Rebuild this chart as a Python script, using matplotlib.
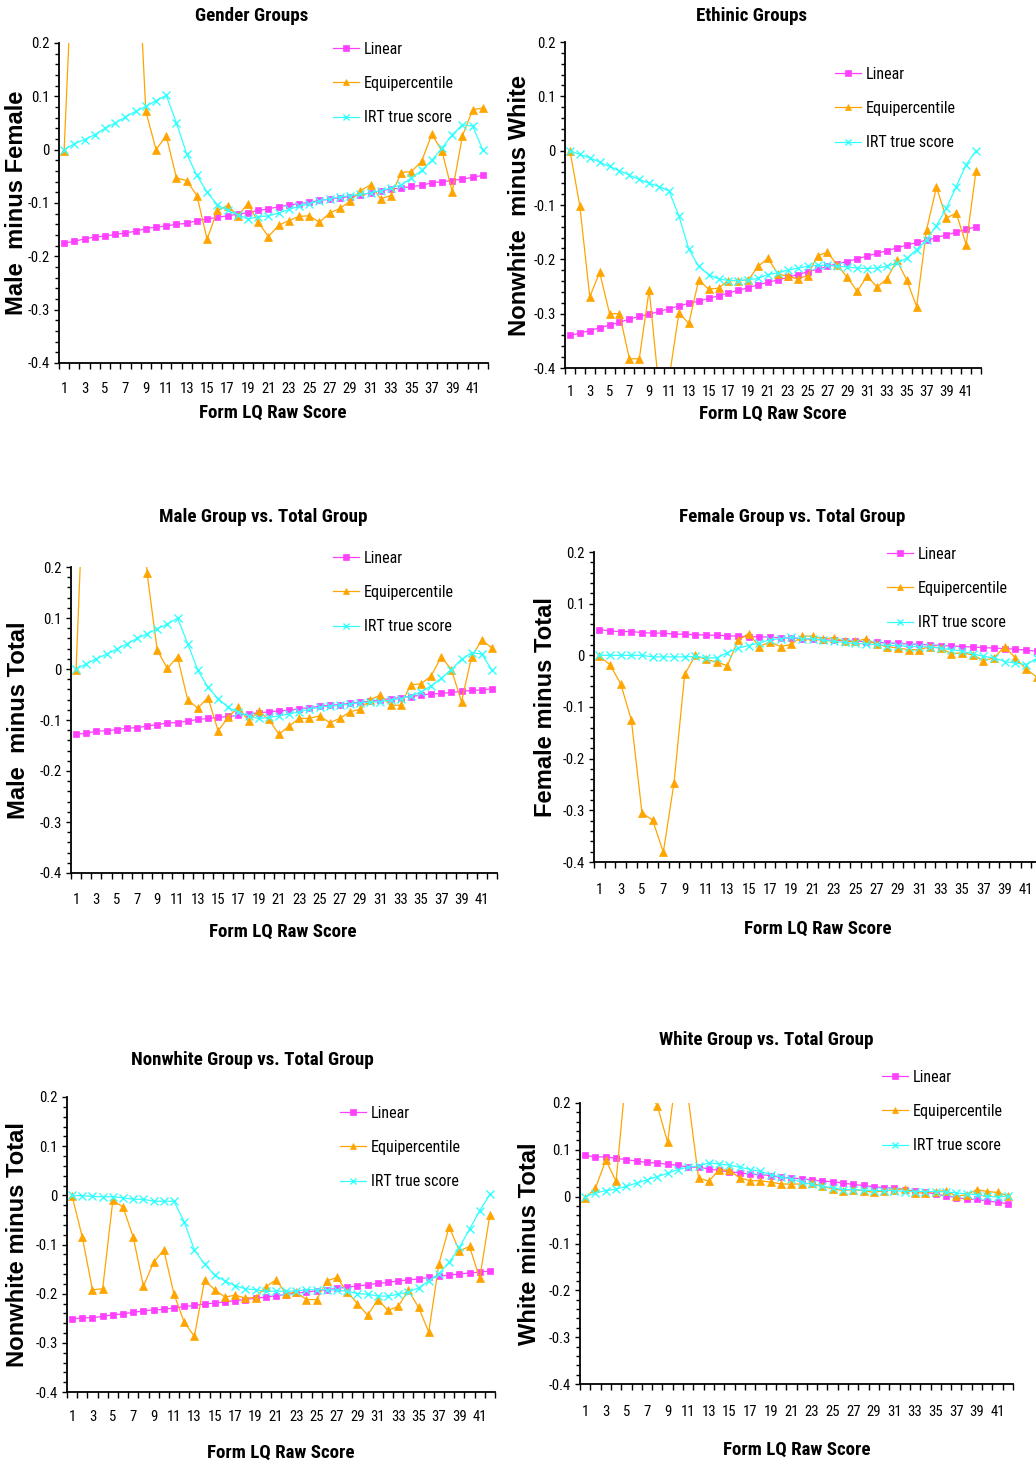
import os
import numpy as np
import matplotlib
matplotlib.use("Agg")
import matplotlib.pyplot as plt
from matplotlib import font_manager
from matplotlib.font_manager import FontProperties
from matplotlib.ticker import FixedLocator, MultipleLocator, NullFormatter, FuncFormatter

W, H = 1036, 1466

scores = list(range(1, 43))
series_names = ["Linear", "Equipercentile", "IRT true score"]

# --- Gender groups (male minus female)
gender_linear = [-0.175, -0.172, -0.167, -0.164, -0.162, -0.159, -0.156, -0.153, -0.148, -0.145,
                 -0.143, -0.140, -0.138, -0.133, -0.130, -0.127, -0.124, -0.121, -0.118, -0.114,
                 -0.111, -0.107, -0.104, -0.101, -0.099, -0.095, -0.093, -0.090, -0.088, -0.085,
                 -0.081, -0.077, -0.074, -0.072, -0.069, -0.067, -0.062, -0.060, -0.058, -0.055,
                 -0.052, -0.048]
gender_equi = [-0.003, 0.44, 0.52, 0.55, 0.57, 0.55, 0.51, 0.46, 0.072, 0.000,
               0.026, -0.053, -0.058, -0.086, -0.168, -0.114, -0.105, -0.124, -0.101, -0.136,
               -0.163, -0.142, -0.133, -0.125, -0.124, -0.136, -0.119, -0.110, -0.097, -0.077,
               -0.066, -0.092, -0.086, -0.043, -0.041, -0.022, 0.029, -0.003, -0.079, 0.026,
               0.075, 0.078]
gender_irt = [0.000, 0.011, 0.019, 0.028, 0.040, 0.050, 0.061, 0.072, 0.081, 0.092,
              0.102, 0.050, -0.008, -0.048, -0.080, -0.103, -0.114, -0.122, -0.130, -0.126,
              -0.124, -0.119, -0.112, -0.106, -0.101, -0.096, -0.092, -0.089, -0.086, -0.084,
              -0.081, -0.077, -0.072, -0.066, -0.053, -0.039, -0.020, 0.003, 0.028, 0.047,
              0.044, -0.001]

# --- Ethnic groups (nonwhite minus white)
ethnic_linear = [-0.340, -0.336, -0.331, -0.326, -0.321, -0.316, -0.310, -0.305, -0.301, -0.296,
                 -0.291, -0.286, -0.281, -0.277, -0.272, -0.267, -0.262, -0.257, -0.252, -0.247,
                 -0.242, -0.238, -0.233, -0.228, -0.223, -0.218, -0.213, -0.208, -0.204, -0.199,
                 -0.194, -0.189, -0.184, -0.179, -0.174, -0.169, -0.165, -0.160, -0.155, -0.150,
                 -0.145, -0.140]
ethnic_equi = [0.000, -0.102, -0.269, -0.224, -0.300, -0.300, -0.383, -0.383, -0.256, -0.440,
               -0.420, -0.299, -0.318, -0.238, -0.255, -0.253, -0.239, -0.239, -0.238, -0.213,
               -0.198, -0.227, -0.231, -0.236, -0.230, -0.193, -0.187, -0.211, -0.233, -0.259,
               -0.231, -0.251, -0.236, -0.202, -0.238, -0.287, -0.146, -0.067, -0.124, -0.115,
               -0.173, -0.037]
ethnic_irt = [0.000, -0.007, -0.013, -0.021, -0.029, -0.037, -0.045, -0.053, -0.060, -0.066,
              -0.074, -0.120, -0.181, -0.213, -0.228, -0.236, -0.239, -0.239, -0.238, -0.235,
              -0.228, -0.225, -0.220, -0.216, -0.213, -0.211, -0.211, -0.213, -0.214, -0.216,
              -0.217, -0.216, -0.213, -0.207, -0.198, -0.182, -0.164, -0.138, -0.106, -0.066,
              -0.026, 0.000]

# --- Male group vs total group
male_linear = [-0.128, -0.126, -0.122, -0.121, -0.119, -0.116, -0.115, -0.112, -0.109, -0.106,
               -0.105, -0.102, -0.099, -0.097, -0.095, -0.093, -0.091, -0.088, -0.086, -0.084,
               -0.082, -0.081, -0.078, -0.076, -0.073, -0.071, -0.070, -0.067, -0.065, -0.063,
               -0.061, -0.058, -0.056, -0.054, -0.051, -0.049, -0.048, -0.046, -0.044, -0.042,
               -0.041, -0.039]
male_equi = [-0.002, 0.50, 0.56, 0.60, 0.58, 0.55, 0.50, 0.188, 0.037, 0.001,
             0.024, -0.060, -0.077, -0.056, -0.121, -0.095, -0.074, -0.102, -0.082, -0.099,
             -0.128, -0.112, -0.097, -0.097, -0.092, -0.105, -0.097, -0.084, -0.079, -0.060,
             -0.051, -0.071, -0.071, -0.031, -0.029, -0.014, 0.024, -0.001, -0.064, 0.024,
             0.057, 0.041]
male_irt = [0.000, 0.010, 0.020, 0.029, 0.039, 0.049, 0.060, 0.069, 0.079, 0.088,
            0.100, 0.050, -0.002, -0.036, -0.058, -0.075, -0.085, -0.092, -0.097, -0.095,
            -0.092, -0.088, -0.084, -0.079, -0.075, -0.073, -0.071, -0.069, -0.066, -0.065,
            -0.064, -0.061, -0.058, -0.053, -0.045, -0.033, -0.018, -0.001, 0.019, 0.032,
            0.029, -0.002]

# --- Female group vs total group
female_linear = [0.050, 0.047, 0.046, 0.046, 0.044, 0.043, 0.043, 0.041, 0.041, 0.040,
                 0.039, 0.039, 0.038, 0.037, 0.036, 0.036, 0.035, 0.034, 0.034, 0.032,
                 0.031, 0.030, 0.029, 0.028, 0.028, 0.026, 0.025, 0.024, 0.023, 0.022,
                 0.021, 0.020, 0.019, 0.018, 0.017, 0.016, 0.015, 0.014, 0.013, 0.012,
                 0.010, 0.008]
female_equi = [-0.002, -0.018, -0.055, -0.125, -0.305, -0.319, -0.381, -0.247, -0.037, 0.000,
               -0.008, -0.013, -0.020, 0.029, 0.042, 0.017, 0.026, 0.017, 0.021, 0.037,
               0.037, 0.032, 0.034, 0.027, 0.027, 0.032, 0.021, 0.017, 0.014, 0.011,
               0.011, 0.017, 0.014, 0.003, 0.005, 0.001, -0.010, -0.005, 0.017, -0.005,
               -0.026, -0.042]
female_irt = [0.000, 0.000, 0.000, 0.000, 0.000, -0.003, -0.003, -0.003, -0.003, -0.002,
              -0.005, -0.005, 0.005, 0.014, 0.019, 0.024, 0.030, 0.032, 0.035, 0.032,
              0.032, 0.029, 0.027, 0.025, 0.023, 0.022, 0.021, 0.019, 0.019, 0.017,
              0.017, 0.016, 0.014, 0.011, 0.008, 0.003, -0.002, -0.005, -0.012, -0.015,
              -0.018, -0.006]

# --- Nonwhite group vs total group
nonwhite_linear = [-0.252, -0.249, -0.249, -0.246, -0.243, -0.241, -0.238, -0.235, -0.233, -0.232,
                   -0.229, -0.226, -0.224, -0.221, -0.219, -0.217, -0.214, -0.212, -0.209, -0.207,
                   -0.204, -0.202, -0.199, -0.197, -0.194, -0.192, -0.189, -0.187, -0.184, -0.182,
                   -0.179, -0.177, -0.174, -0.172, -0.170, -0.167, -0.165, -0.162, -0.160, -0.158,
                   -0.156, -0.154]
nonwhite_equi = [-0.001, -0.085, -0.192, -0.190, -0.010, -0.024, -0.085, -0.185, -0.136, -0.111,
                 -0.201, -0.258, -0.287, -0.173, -0.192, -0.207, -0.203, -0.209, -0.208, -0.186,
                 -0.172, -0.200, -0.197, -0.212, -0.212, -0.174, -0.167, -0.197, -0.220, -0.244,
                 -0.212, -0.234, -0.226, -0.193, -0.228, -0.278, -0.139, -0.064, -0.113, -0.104,
                 -0.169, -0.039]
nonwhite_irt = [0.000, -0.001, -0.002, -0.003, -0.003, -0.005, -0.008, -0.008, -0.012, -0.012,
                -0.012, -0.054, -0.111, -0.140, -0.163, -0.174, -0.184, -0.190, -0.192, -0.195,
                -0.195, -0.195, -0.195, -0.192, -0.192, -0.192, -0.193, -0.195, -0.200, -0.201,
                -0.205, -0.205, -0.201, -0.197, -0.188, -0.174, -0.159, -0.136, -0.106, -0.069,
                -0.031, 0.002]

# --- White group vs total group
white_linear = [0.088, 0.085, 0.085, 0.082, 0.079, 0.076, 0.073, 0.072, 0.069, 0.067,
                0.063, 0.063, 0.059, 0.056, 0.053, 0.051, 0.048, 0.047, 0.045, 0.041,
                0.040, 0.038, 0.036, 0.033, 0.032, 0.029, 0.026, 0.024, 0.021, 0.019,
                0.018, 0.015, 0.012, 0.010, 0.005, 0.002, -0.002, -0.005, -0.006, -0.009,
                -0.012, -0.015]
white_equi = [-0.003, 0.018, 0.078, 0.033, 0.27, 0.30, 0.23, 0.194, 0.116, 0.29,
              0.21, 0.040, 0.033, 0.058, 0.056, 0.040, 0.034, 0.034, 0.031, 0.027,
              0.027, 0.027, 0.029, 0.022, 0.017, 0.013, 0.015, 0.013, 0.009, 0.013,
              0.015, 0.017, 0.008, 0.008, 0.011, 0.013, 0.001, 0.004, 0.015, 0.011,
              0.009, 0.002]
white_irt = [0.000, 0.008, 0.013, 0.016, 0.022, 0.029, 0.036, 0.043, 0.050, 0.058,
             0.063, 0.066, 0.072, 0.070, 0.067, 0.063, 0.058, 0.054, 0.047, 0.042,
             0.038, 0.031, 0.026, 0.022, 0.019, 0.015, 0.015, 0.014, 0.013, 0.013,
             0.013, 0.011, 0.011, 0.011, 0.011, 0.010, 0.008, 0.006, 0.004, 0.001,
             -0.001, 0.002]

titles = ["Gender Groups", "Ethinic Groups", "Male Group vs. Total Group",
          "Female Group vs. Total Group", "Nonwhite Group vs. Total Group",
          "White Group vs. Total Group"]
ylabels = ["Male  minus Female", "Nonwhite  minus White", "Male  minus Total",
           "Female minus Total", "Nonwhite minus Total", "White minus Total"]
xlabel = "Form LQ Raw Score"

panel_data = [
    (gender_linear, gender_equi, gender_irt),
    (ethnic_linear, ethnic_equi, ethnic_irt),
    (male_linear, male_equi, male_irt),
    (female_linear, female_equi, female_irt),
    (nonwhite_linear, nonwhite_equi, nonwhite_irt),
    (white_linear, white_equi, white_irt),
]

# layout in pixels: axes (left, right, top, bottom), title centre, xlabel centre,
# ylabel x centre, legend (line start x, first row y), tick label centre y
layout = [
    dict(box=(59, 488, 43, 363), title=(252, 16), xlab=(273, 413), ylab=17, leg=(333, 48), tick=389),
    dict(box=(565, 981, 42, 368), title=(751, 16), xlab=(773, 414), ylab=520, leg=(835, 73), tick=392),
    dict(box=(71, 497, 567, 873), title=(263, 517), xlab=(283, 932), ylab=19, leg=(333, 557), tick=900),
    dict(box=(594, 1042, 552, 862), title=(792, 517), xlab=(818, 929), ylab=546, leg=(887, 553), tick=890),
    dict(box=(67, 495, 1097, 1392), title=(252, 1060), xlab=(281, 1453), ylab=18, leg=(340, 1112), tick=1417),
    dict(box=(580, 1013, 1103, 1384), title=(766, 1040), xlab=(797, 1450), ylab=530, leg=(882, 1076), tick=1412),
]


def pick_font(regular_names, bold_names):
    files = {os.path.basename(f.fname): f.fname for f in font_manager.fontManager.ttflist}
    for reg, bld in zip(regular_names, bold_names):
        if reg in files and bld in files:
            return FontProperties(fname=files[reg]), FontProperties(fname=files[bld])
    return (FontProperties(family=["Liberation Sans", "DejaVu Sans"]),
            FontProperties(family=["Liberation Sans", "DejaVu Sans"], weight="bold"))


narrow_reg, narrow_bold = pick_font(
    ["LiberationSansNarrow-Regular.ttf", "ArialNarrow.ttf", "RobotoCondensed-Regular.ttf",
     "NotoSans-ExtraCondensed.ttf", "NotoSans-Condensed.ttf", "DejaVuSansCondensed.ttf"],
    ["LiberationSansNarrow-Bold.ttf", "ArialNarrowBold.ttf", "RobotoCondensed-Bold.ttf",
     "NotoSans-ExtraCondensedBold.ttf", "NotoSans-CondensedBold.ttf", "DejaVuSansCondensed-Bold.ttf"])
wide_bold = FontProperties(family=["Liberation Sans", "DejaVu Sans"], weight="bold")

colors = ["#FF40FF", "#FFA500", "#33FFFF"]
markers = ["s", "^", "x"]
msizes = [4.8, 6, 5.5]

fig = plt.figure(figsize=(W / 100, H / 100), dpi=100)
renderer = fig.canvas.get_renderer()


def fit_size(text, fp, target_px):
    t = fig.text(0, 0, text, fontproperties=fp, size=10)
    w = t.get_window_extent(renderer).width
    t.remove()
    return 10.0 * target_px / w


title_fs = fit_size("Gender Groups", narrow_bold, 113)
xlab_fs = fit_size("Form LQ Raw Score", narrow_bold, 147)
leg_fs = fit_size("Equipercentile", narrow_reg, 89)
tick_fs = fit_size("-0.4", narrow_reg, 22)
ylab_fs = fit_size("Female minus Total", wide_bold, 220)


def fp_sized(fp, size):
    f = fp.copy()
    f.set_size(size)
    return f


for data, title, ylab, lay in zip(panel_data, titles, ylabels, layout):
    l, r, t, b = lay["box"]
    ax = fig.add_axes([l / W, 1 - b / H, (r - l) / W, (b - t) / H])
    for vals, name, c, m, ms in zip(data, series_names, colors, markers, msizes):
        ax.plot(scores, vals, color=c, marker=m, markersize=ms, linewidth=0.9,
                markeredgewidth=1.0 if m == "x" else 0.5, label=name)
    ax.set_xlim(0.5, 42.5)
    ax.set_ylim(-0.4, 0.2)
    for s in ("top", "right"):
        ax.spines[s].set_visible(False)
    for s in ("left", "bottom"):
        ax.spines[s].set_linewidth(1.3)

    ax.yaxis.set_major_locator(MultipleLocator(0.1))
    ax.yaxis.set_minor_locator(MultipleLocator(0.02))
    ax.yaxis.set_major_formatter(FuncFormatter(lambda v, p: "%g" % round(v, 1)))
    ax.tick_params(axis="y", which="major", direction="out", length=3.5, width=1, pad=3)
    ax.tick_params(axis="y", which="minor", direction="out", length=3, width=1)

    ax.xaxis.set_major_locator(FixedLocator(np.arange(0.5, 43, 1.0)))
    ax.xaxis.set_major_formatter(NullFormatter())
    ax.xaxis.set_minor_locator(FixedLocator(scores[::2]))
    ax.xaxis.set_minor_formatter(FuncFormatter(lambda v, p: "%d" % v))
    tick_pad = (lay["tick"] - b - 0.45 * tick_fs / 0.72) * 0.72
    ax.tick_params(axis="x", which="major", direction="out", length=4, width=1)
    ax.tick_params(axis="x", which="minor", length=0, pad=tick_pad)
    for lbl in ax.get_yticklabels() + ax.get_xticklabels(minor=True):
        lbl.set_fontproperties(fp_sized(narrow_reg, tick_fs))

    tx, ty = lay["title"]
    ax.set_title(title, x=(tx - l) / (r - l), y=(b - ty) / (b - t), va="center", pad=0,
                 fontproperties=fp_sized(narrow_bold, title_fs))
    ax.set_xlabel(xlabel, fontproperties=fp_sized(narrow_bold, xlab_fs))
    xx, xy = lay["xlab"]
    ax.xaxis.set_label_coords((xx - l) / (r - l), (b - xy) / (b - t))
    ax.xaxis.label.set_va("center")
    ax.set_ylabel(ylab, fontproperties=fp_sized(wide_bold, ylab_fs))
    ax.yaxis.set_label_coords((lay["ylab"] - l) / (r - l), 0.5)
    ax.yaxis.label.set_va("center")

    lx, ly = lay["leg"]
    fpx = leg_fs / 0.72
    rowh = 0.86 * fpx
    ax.legend(loc="upper left", bbox_to_anchor=(lx / W, 1 - (ly - 0.45 * rowh) / H),
              bbox_transform=fig.transFigure, frameon=False, borderpad=0,
              borderaxespad=0, handlelength=26 / fpx, handletextpad=5 / fpx,
              labelspacing=(33 - rowh) / fpx, markerscale=0.8,
              prop=fp_sized(narrow_reg, leg_fs))

fig.savefig("out.png", dpi=100)
